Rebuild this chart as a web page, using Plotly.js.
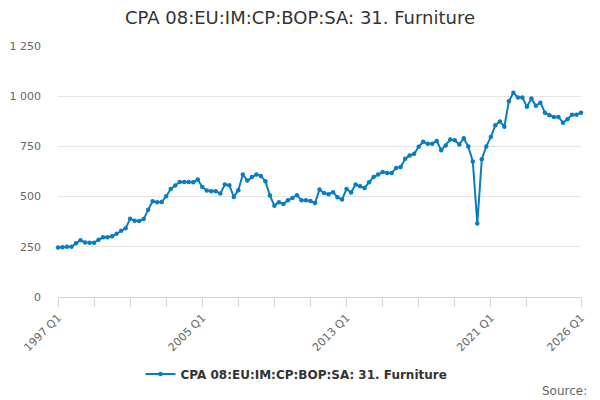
<!DOCTYPE html>
<html>
<head>
<meta charset="utf-8">
<script src="https://cdn.plot.ly/plotly-3.0.1.min.js"></script>
<style>html,body{margin:0;padding:0;background:#fff;}#chart{width:600px;height:400px;}</style>
</head>
<body>
<div id="chart"></div>
<script>
const startYear = 1997;
const seriesName = "CPA 08:EU:IM:CP:BOP:SA: 31. Furniture";
const values = [
  247, 248, 250, 250, 268, 283, 272, 270, 270, 285,
  297, 298, 302, 315, 330, 342, 390, 380, 378, 388,
  435, 477, 472, 473, 502, 538, 555, 573, 573, 573,
  572, 585, 548, 530, 527, 527, 515, 560, 557, 498,
  532, 610, 580, 597, 610, 602, 577, 505, 455, 472,
  463, 482, 493, 507, 482, 482, 478, 468, 535, 518,
  512, 522, 497, 485, 538, 520, 560, 552, 543, 572,
  597, 610, 622, 618, 618, 643, 647, 688, 705, 713,
  748, 773, 763, 763, 777, 731, 755, 784, 781, 760,
  790, 750, 675, 366, 686, 750, 797, 855, 874, 848,
  975, 1017, 993, 993, 947, 988, 952, 968, 918, 905,
  897, 897, 868, 885, 908, 908, 918
];
const quarters = values.map((v, i) => (startYear + Math.floor(i / 4)) + " Q" + (i % 4 + 1));
const tickIdx = [0, 8, 16, 24, 32, 40, 48, 56, 64, 72, 80, 88, 96, 104, 116];
const labelled = ["1997 Q1", "2005 Q1", "2013 Q1", "2021 Q1", "2026 Q1"];
const tickVals = tickIdx.map(i => quarters[i]);
const tickText = tickVals.map(q => labelled.includes(q) ? q : "");
const yTicks = [0, 250, 500, 750, 1000, 1250];

const trace = {
  x: quarters,
  y: values,
  type: "scatter",
  mode: "lines+markers",
  name: seriesName,
  line: {color: "#0a7dc2", width: 2},
  marker: {color: "#0a7dc2", size: 4.5},
  cliponaxis: false,
  hoverinfo: "x+y"
};

const layout = {
  width: 600, height: 400,
  margin: {l: 58, r: 19, t: 46, b: 103},
  paper_bgcolor: "#fff", plot_bgcolor: "#fff",
  separators: ". ",
  font: {family: "DejaVu Sans, Verdana, sans-serif", color: "#666", size: 11},
  title: {text: seriesName, x: 0.5, xanchor: "center", y: 0.955, yanchor: "middle",
          font: {size: 18, color: "#333", family: "DejaVu Sans, Verdana, sans-serif"}},
  xaxis: {
    type: "category",
    range: [0, values.length - 1],
    tickmode: "array", tickvals: tickVals, ticktext: tickText,
    tickangle: -45,
    ticks: "outside", ticklen: 9, tickcolor: "#ccd6eb", tickwidth: 1,
    showline: true, linecolor: "#ccd6eb", linewidth: 1,
    showgrid: false, zeroline: false,
    tickfont: {size: 11, color: "#666"}
  },
  yaxis: {
    range: [0, 1250],
    tickmode: "array", tickvals: yTicks,
    tickformat: ",d",
    showgrid: true, gridcolor: "#e6e6e6", gridwidth: 1,
    zeroline: false, showline: false,
    ticks: "", ticklabelstandoff: 16,
    tickfont: {size: 11, color: "#666"}
  },
  showlegend: true,
  legend: {orientation: "h", x: 0.456, xanchor: "center", y: -0.307, yanchor: "middle",
           font: {size: 12, color: "#333", family: "DejaVu Sans, Verdana, sans-serif", weight: "bold"},
           itemwidth: 30},
  annotations: [{
    text: "Source:", xref: "paper", yref: "paper", x: 1.0153, y: -0.375,
    xanchor: "right", yanchor: "middle", showarrow: false,
    font: {size: 12, color: "#666"}
  }]
};

Plotly.newPlot("chart", [trace], layout, {displayModeBar: false, staticPlot: true});
</script>
</body>
</html>
